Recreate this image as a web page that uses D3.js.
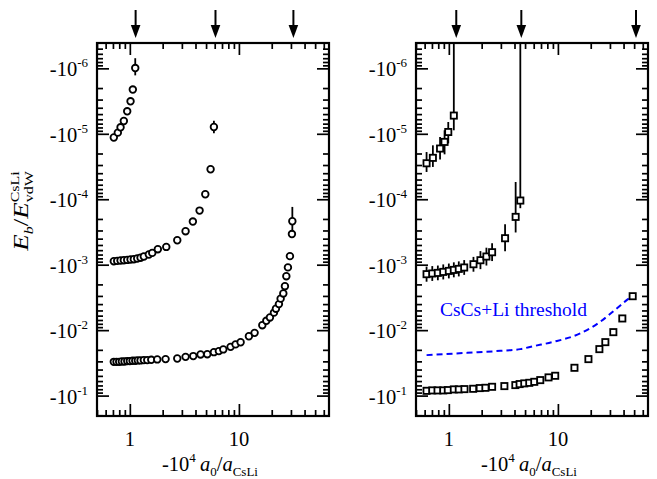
<!DOCTYPE html>
<html>
<head>
<meta charset="utf-8">
<script src="https://cdn.jsdelivr.net/npm/d3@7"></script>
<style>
  body { margin: 0; background: #fff; }
  svg { display: block; }
  text { font-family: "Liberation Serif", "Times New Roman", serif; fill: #000; }
</style>
</head>
<body>
<script>
const W = 657, H = 479;
const TOP = 43, BOTTOM = 416;
const X_DOMAIN = [0.5, 67];
const Y_DOMAIN = [4.1e-7, 0.205];   // |E_b| / E_vdW, drawn downward
const BLUE = '#0000ff';

// ---- left panel (circles) ----
const circA_x = [0.713, 0.776, 0.822, 0.881, 0.946, 1.015, 1.065, 1.121];
const circA_y = [1.14e-5, 9.6e-6, 7.96e-6, 6.38e-6, 4.53e-6, 3.19e-6, 2.11e-6, 0.99e-6];
const circA_lo = [null, null, null, null, null, null, null, 7.0e-7];
const circA_hi = [null, null, null, null, null, null, null, 1.28e-6];

const circB_x = [0.713, 0.766, 0.822, 0.881, 0.946, 1.015, 1.088, 1.169, 1.254, 1.344, 1.494,
  1.605, 1.806, 2.158, 2.722, 3.244, 3.784, 4.36, 4.918, 5.50, 5.90];
const circB_y = [8.84e-4, 8.75e-4, 8.63e-4, 8.54e-4, 8.45e-4, 8.33e-4, 8.24e-4, 8.04e-4, 7.82e-4,
  7.50e-4, 6.99e-4, 6.60e-4, 5.80e-4, 5.35e-4, 4.23e-4, 3.08e-4, 2.19e-4, 1.49e-4, 8.39e-5,
  3.48e-5, 7.87e-6];
const circB_lo = circB_y.map((v, i) => i === circB_y.length - 1 ? 6.3e-6 : null);
const circB_hi = circB_y.map((v, i) => i === circB_y.length - 1 ? 9.8e-6 : null);

const circC_x = [0.713, 0.755, 0.799, 0.845, 0.894, 0.947, 1.0, 1.059, 1.121, 1.184, 1.254,
  1.344, 1.444, 1.572, 1.784, 2.127, 2.722, 3.244, 3.816, 4.453, 5.13, 5.90, 6.55, 7.19, 8.39,
  9.32, 10.37, 12.35, 13.93, 16.39, 17.84, 19.25, 20.95, 21.85, 23.28, 24.13, 25.54, 26.42,
  27.22, 28.15, 29.37, 30.64, 30.9];
const circC_y = [0.0305, 0.0305, 0.0305, 0.0301, 0.0301, 0.0297, 0.0297, 0.0294, 0.0294, 0.0290,
  0.0290, 0.0287, 0.0287, 0.0284, 0.0280, 0.0277, 0.0271, 0.0256, 0.0249, 0.0235, 0.0233,
  0.0217, 0.0209, 0.0197, 0.0180, 0.0165, 0.0153, 0.0124, 0.0110, 0.0084, 0.0072, 0.0064,
  0.0054, 0.0047, 0.0040, 0.0033, 0.00275, 0.00213, 0.00150, 0.00110, 0.00074, 0.00034, 0.000217];
const circC_lo = circC_y.map((v, i) => i === circC_y.length - 1 ? 1.31e-4 : null);
const circC_hi = circC_y.map((v, i) => i === circC_y.length - 1 ? 3.3e-4 : null);

const leftArrows = [1.13, 6.1, 31.6];

// ---- right panel (squares) ----
const sqA_x = [0.625, 0.714, 0.831, 0.914, 0.988, 1.111];
const sqA_y = [2.82e-5, 2.33e-5, 1.68e-5, 1.33e-5, 9.39e-6, 5.27e-6];
const sqA_lo = [1.90e-5, 1.50e-5, 1.12e-5, 8.84e-6, 6.60e-6, 1e-7];
const sqA_hi = [3.83e-5, 3.21e-5, 2.48e-5, 2.06e-5, 1.40e-5, 8.84e-6];

const sqB_x = [0.625, 0.705, 0.793, 0.889, 1.0, 1.111, 1.234, 1.383, 1.682, 1.949, 2.211, 2.493,
  3.278, 4.098, 4.523];
const sqB_y = [1.396e-3, 1.362e-3, 1.334e-3, 1.288e-3, 1.244e-3, 1.201e-3, 1.159e-3, 1.103e-3,
  9.83e-4, 8.54e-4, 7.50e-4, 6.45e-4, 3.94e-4, 1.86e-4, 1.047e-4];
const sqB_lo = [1.07e-3, 1.05e-3, 1.03e-3, 9.9e-4, 9.6e-4, 9.2e-4, 8.9e-4, 8.5e-4, 7.6e-4,
  6.2e-4, 5.5e-4, 4.7e-4, 2.41e-4, 5.45e-5, 1e-7];
const sqB_hi = [1.82e-3, 1.77e-3, 1.73e-3, 1.68e-3, 1.62e-3, 1.56e-3, 1.51e-3, 1.43e-3, 1.28e-3,
  1.17e-3, 1.03e-3, 8.8e-4, 6.22e-4, 3.22e-4, 1.37e-4];

const sqC_x = [0.625, 0.705, 0.788, 0.889, 0.979, 1.111, 1.234, 1.391, 1.671, 1.921, 2.165, 2.493,
  3.230, 4.073, 4.457, 4.919, 5.466, 6.074, 6.890, 8.204, 9.445, 14.18, 19.05, 24.0, 27.23,
  32.23, 38.96, 48.49];
const sqC_y = [0.0845, 0.0833, 0.0833, 0.0833, 0.0824, 0.0804, 0.0804, 0.0796, 0.0787, 0.0768,
  0.0760, 0.0734, 0.0716, 0.0691, 0.0667, 0.0651, 0.0638, 0.0616, 0.0580, 0.0527, 0.0498,
  0.0376, 0.0277, 0.0195, 0.01525, 0.01073, 0.00663, 0.00303];

const thresh_x = [0.625, 1.473, 2.969, 4.523, 5.983, 9.115, 15.99, 24.36, 34.63, 42.72, 47.48];
const thresh_y = [0.02408, 0.02222, 0.0207, 0.0195, 0.01755, 0.01509, 0.01123, 0.00747, 0.00466,
  0.00348, 0.00303];
const threshLabel = 'CsCs+Li threshold';

const rightArrows = [1.17, 4.62, 52];

const yMajor = [1e-6, 1e-5, 1e-4, 1e-3, 1e-2, 1e-1];
const xMajor = [1, 10];
const xLabels = ['1', '10'];

// ---------------------------------------------------------------

const svg = d3.select('body').append('svg')
    .attr('width', W)
    .attr('height', H);

const y = d3.scaleLog().domain(Y_DOMAIN).range([TOP, BOTTOM]);

const inDomain = (v, dom) => v >= Math.min(...dom) * 0.999 && v <= Math.max(...dom) * 1.001;
const minorTicks = (dom, majors) => {
    const out = [];
    for (let e = -8; e <= 2; e++) {
        for (let k = 1; k <= 9; k++) {
            const v = k * Math.pow(10, e);
            if (inDomain(v, dom) && !majors.some(m => Math.abs(m - v) / v < 1e-6)) out.push(v);
        }
    }
    return out;
};
const xMinor = minorTicks(X_DOMAIN, xMajor);
const yMinor = minorTicks(Y_DOMAIN, yMajor);

function drawPanel(id, x0, x1, series, arrows) {
    const x = d3.scaleLog().domain(X_DOMAIN).range([x0, x1]);
    const g = svg.append('g');

    g.append('clipPath').attr('id', 'clip-' + id)
      .append('rect')
        .attr('x', x0).attr('y', TOP)
        .attr('width', x1 - x0).attr('height', BOTTOM - TOP);

    // axes: ticks inward on all four sides
    const addAxis = (axis, tx, ty) => {
        const a = g.append('g')
            .attr('transform', `translate(${tx},${ty})`)
            .call(axis);
        a.select('.domain').remove();
        a.selectAll('line').attr('stroke', '#000').attr('stroke-width', 1.7);
    };
    addAxis(d3.axisBottom(x).tickValues(xMajor).tickSize(-12).tickFormat(''), 0, BOTTOM);
    addAxis(d3.axisBottom(x).tickValues(xMinor).tickSize(-6).tickFormat(''), 0, BOTTOM);
    addAxis(d3.axisTop(x).tickValues(xMajor).tickSize(-12).tickFormat(''), 0, TOP);
    addAxis(d3.axisTop(x).tickValues(xMinor).tickSize(-6).tickFormat(''), 0, TOP);
    addAxis(d3.axisLeft(y).tickValues(yMajor).tickSize(-12).tickFormat(''), x0, 0);
    addAxis(d3.axisLeft(y).tickValues(yMinor).tickSize(-6).tickFormat(''), x0, 0);
    addAxis(d3.axisRight(y).tickValues(yMajor).tickSize(-12).tickFormat(''), x1, 0);
    addAxis(d3.axisRight(y).tickValues(yMinor).tickSize(-6).tickFormat(''), x1, 0);

    g.append('rect')
        .attr('x', x0).attr('y', TOP)
        .attr('width', x1 - x0).attr('height', BOTTOM - TOP)
        .attr('fill', 'none').attr('stroke', '#000').attr('stroke-width', 2.2);

    // y tick labels  -10^n
    yMajor.forEach(v => {
        const t = g.append('text')
            .attr('x', x0 - 9)
            .attr('y', y(v) + 8)
            .attr('text-anchor', 'end')
            .attr('font-size', 20.5);
        t.append('tspan').text('-10');
        t.append('tspan').attr('dy', -9).attr('font-size', 13).text(Math.round(Math.log10(v)));
    });

    // x tick labels
    xMajor.forEach((v, i) => {
        g.append('text')
            .attr('x', x(v)).attr('y', 446)
            .attr('text-anchor', 'middle')
            .attr('font-size', 20.5)
            .text(xLabels[i]);
    });

    // x title: -10^4 a_0 / a_CsLi
    const xt = g.append('text')
        .attr('x', (x0 + x1) / 2 - 3).attr('y', 471)
        .attr('text-anchor', 'middle')
        .attr('font-size', 20.5);
    xt.append('tspan').text('-10');
    xt.append('tspan').attr('dy', -9).attr('font-size', 13).text('4');
    xt.append('tspan').attr('dy', 9).text('\u2009');
    xt.append('tspan').attr('font-style', 'italic').text('a');
    xt.append('tspan').attr('dy', 5).attr('font-size', 13).text('0');
    xt.append('tspan').attr('dy', -5).text('/');
    xt.append('tspan').attr('font-style', 'italic').text('a');
    xt.append('tspan').attr('dy', 5).attr('font-size', 13).text('CsLi');

    // arrows above the frame
    arrows.forEach(v => {
        const ax = x(v);
        g.append('line')
            .attr('x1', ax).attr('x2', ax)
            .attr('y1', 10).attr('y2', 28)
            .attr('stroke', '#000').attr('stroke-width', 2);
        g.append('path')
            .attr('d', `M${ax - 4.8},25 L${ax + 4.8},25 L${ax},38 Z`)
            .attr('fill', '#000');
    });

    const plot = g.append('g').attr('clip-path', `url(#clip-${id})`);

    series.forEach(s => {
        if (s.line) {
            plot.append('path')
                .datum(s.x.map((xv, i) => [xv, s.y[i]]))
                .attr('d', d3.line()
                    .x(d => x(d[0])).y(d => y(d[1]))
                    .curve(d3.curveMonotoneX))
                .attr('fill', 'none')
                .attr('stroke', s.color)
                .attr('stroke-width', 2)
                .attr('stroke-dasharray', '6,4');
            return;
        }
        if (s.lo) {
            s.x.forEach((xv, i) => {
                if (s.lo[i] == null) return;
                plot.append('line')
                    .attr('x1', x(xv)).attr('x2', x(xv))
                    .attr('y1', y(s.lo[i])).attr('y2', y(s.hi[i]))
                    .attr('stroke', '#000').attr('stroke-width', 1.8);
            });
        }
        s.x.forEach((xv, i) => {
            if (s.shape === 'circle') {
                plot.append('circle')
                    .attr('cx', x(xv)).attr('cy', y(s.y[i]))
                    .attr('r', 3.3)
                    .attr('fill', '#fff').attr('stroke', '#000').attr('stroke-width', 1.8);
            } else {
                plot.append('rect')
                    .attr('x', x(xv) - 3.1).attr('y', y(s.y[i]) - 3.1)
                    .attr('width', 6.2).attr('height', 6.2)
                    .attr('fill', '#fff').attr('stroke', '#000').attr('stroke-width', 1.8);
            }
        });
    });
    return { g, x };
}

drawPanel('left', 97, 329, [
    { x: circA_x, y: circA_y, lo: circA_lo, hi: circA_hi, shape: 'circle' },
    { x: circB_x, y: circB_y, lo: circB_lo, hi: circB_hi, shape: 'circle' },
    { x: circC_x, y: circC_y, lo: circC_lo, hi: circC_hi, shape: 'circle' }
], leftArrows);

const right = drawPanel('right', 416, 648, [
    { x: thresh_x, y: thresh_y, line: true, color: BLUE },
    { x: sqA_x, y: sqA_y, lo: sqA_lo, hi: sqA_hi, shape: 'square' },
    { x: sqB_x, y: sqB_y, lo: sqB_lo, hi: sqB_hi, shape: 'square' },
    { x: sqC_x, y: sqC_y, shape: 'square' }
], rightArrows);

right.g.append('text')
    .attr('x', 440).attr('y', 316)
    .attr('font-size', 19.5)
    .style('fill', BLUE)
    .text(threshLabel);

// y title: E_b / E_vdW^CsLi (rotated, set a little narrow like the original)
const yt = svg.append('text')
    .attr('transform', 'translate(28,211) rotate(-90) scale(1,0.76)')
    .attr('text-anchor', 'middle')
    .attr('font-size', 27);
yt.append('tspan').attr('font-style', 'italic').text('E');
yt.append('tspan').attr('font-style', 'italic').attr('dy', 6).attr('font-size', 16).text('b');
yt.append('tspan').attr('dy', -6).text('/');
yt.append('tspan').attr('font-style', 'italic').text('E');
const sub = yt.append('tspan').attr('dy', 6).attr('font-size', 16).text('vdW');
const subW = sub.node().getComputedTextLength();
yt.append('tspan').attr('dx', -subW).attr('dy', -18).attr('font-size', 16).text('CsLi');
</script>
</body>
</html>
